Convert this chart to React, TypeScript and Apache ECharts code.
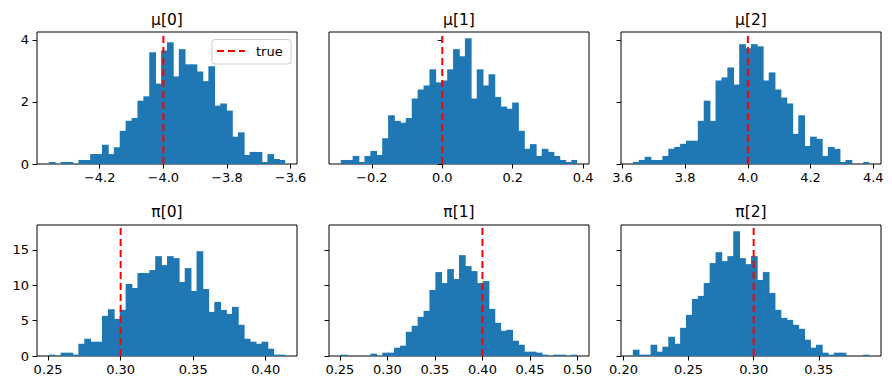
import React, { useEffect, useRef } from "react";
import * as echarts from "echarts";

// Posterior samples summarised as 40-bin density histograms.
const PANEL_TITLES = ["μ[0]", "μ[1]", "μ[2]", "π[0]", "π[1]", "π[2]"];
const TRUE_VALUES = [-4.0, 0.0, 4.0, 0.3, 0.4, 0.3];

// [first bin edge, last bin edge] of each histogram
const BIN_RANGES: [number, number][] = [
  [-4.36, -3.617],
  [-0.288, 0.383],
  [3.633, 4.387],
  [0.2505, 0.4134],
  [0.251, 0.4997],
  [0.2072, 0.3887],
];

const MU0_DENSITY = [
  0.065, 0, 0.065, 0.065, 0, 0.13, 0.13, 0.32, 0.32, 0.62,
  0.32, 0.54, 1.07, 1.39, 1.48, 2.04, 2.18, 3.6, 2.59, 3.66,
  3.92, 2.82, 3.7, 3.21, 3.21, 2.98, 2.67, 3.15, 1.88, 1.95,
  1.72, 0.88, 1.02, 0.29, 0.39, 0.39, 0.065, 0.32, 0.16, 0.13,
];
const MU1_DENSITY = [
  0.13, 0.13, 0.26, 0.065, 0.26, 0.42, 0.29, 0.83, 1.57, 1.39,
  1.33, 1.48, 2.11, 2.4, 2.53, 3.05, 2.63, 2.69, 3.05, 3.7,
  3.47, 4.05, 2.11, 3.05, 2.53, 2.89, 2.16, 1.85, 1.78, 1.98,
  1.07, 0.49, 0.64, 0.26, 0.49, 0.39, 0.26, 0.13, 0.065, 0.13,
];
const MU2_DENSITY = [
  0.065, 0.13, 0.23, 0.13, 0.13, 0.26, 0.49, 0.55, 0.65, 0.75,
  0.75, 1.39, 2.04, 1.39, 2.69, 2.79, 3.11, 2.56, 3.86, 3.73,
  3.86, 3.79, 2.69, 2.95, 2.4, 2.14, 1.95, 0.97, 1.57, 0.58,
  0.88, 0.81, 0.26, 0.55, 0.49, 0.065, 0.13, 0, 0, 0.065,
];
const PI0_DENSITY = [
  0.19, 0, 0.47, 0.47, 0.19, 1.73, 2.44, 2.02, 2.02, 5.67,
  6.61, 5.25, 6.52, 10.17, 9.61, 11.72, 11.72, 12.14, 14.11, 12.84,
  14.11, 13.83, 10.45, 12.42, 9.19, 14.81, 9.47, 6.23, 7.64, 6.52,
  5.95, 6.94, 4.41, 2.44, 2.02, 1.73, 2.02, 1.03, 0.19, 0.19,
];
const PI1_DENSITY = [
  0.19, 0, 0, 0, 0, 0.33, 0, 0.47, 0.47, 1.17,
  1.45, 3.42, 4.27, 5.53, 6.38, 9.33, 11.86, 10.31, 12.28, 10.88,
  14.25, 12.7, 12.0, 10.31, 10.59, 6.66, 4.69, 3.56, 3.7, 2.16,
  1.59, 0.61, 0.61, 0.47, 0.19, 0, 0.19, 0.19, 0, 0.19,
];
const PI2_DENSITY = [
  0.89, 0.19, 0.19, 1.59, 0.61, 1.31, 2.72, 1.73, 3.98, 5.81,
  8.06, 8.49, 10.31, 13.13, 14.67, 13.41, 14.11, 17.63, 13.83, 12.98,
  14.11, 10.74, 11.86, 8.91, 6.52, 5.39, 5.11, 4.41, 3.84, 2.3,
  1.17, 1.59, 0.47, 0.19, 0.47, 0.47, 0, 0, 0, 0.19,
];
const DENSITIES = [MU0_DENSITY, MU1_DENSITY, MU2_DENSITY, PI0_DENSITY, PI1_DENSITY, PI2_DENSITY];

const X_TICKS = [
  [-4.2, -4.0, -3.8, -3.6],
  [-0.2, 0.0, 0.2, 0.4],
  [3.6, 3.8, 4.0, 4.2, 4.4],
  [0.25, 0.3, 0.35, 0.4],
  [0.25, 0.3, 0.35, 0.4, 0.45, 0.5],
  [0.2, 0.25, 0.3, 0.35],
];
const X_DECIMALS = [1, 1, 1, 2, 2, 2];
// shared y ticks per row
const Y_TICKS = [
  [0, 2, 4],
  [0, 5, 10, 15],
];

// layout
const COL_LEFT = [37, 329, 621];
const ROW_TOP = [32, 225];
const ROW_HEIGHT = [132, 131];
const PANEL_W = 260;
const FONT = '"DejaVu Sans", sans-serif';
const BAR_COLOR = "#1f77b4";
const TRUE_COLOR = "#ff0000";

function fmt(v: number, d: number) {
  return v.toFixed(d).replace("-", "\u2212");
}

export default function App() {
  const ref = useRef<HTMLDivElement>(null);

  useEffect(() => {
    if (!ref.current) return;
    const chart = echarts.init(ref.current, undefined, { renderer: "svg" });

    const rowMax = [0, 1].map((r) =>
      1.05 * Math.max(...DENSITIES.slice(r * 3, r * 3 + 3).flat())
    );

    const grids: any[] = [];
    const xAxes: any[] = [];
    const yAxes: any[] = [];
    const series: any[] = [];
    const graphics: any[] = [];

    for (let i = 0; i < 6; i++) {
      const row = Math.floor(i / 3);
      const col = i % 3;
      const [lo, hi] = BIN_RANGES[i];
      const span = hi - lo;
      const n = DENSITIES[i].length;
      const w = span / n;
      const dec = X_DECIMALS[i];

      grids.push({
        left: COL_LEFT[col],
        top: ROW_TOP[row],
        width: PANEL_W,
        height: ROW_HEIGHT[row],
        containLabel: false,
        outerBoundsMode: "none",
        show: true,
        borderColor: "#000",
        borderWidth: 1,
        backgroundColor: "transparent",
      });

      xAxes.push({
        type: "value",
        gridIndex: i,
        min: lo - 0.05 * span,
        max: hi + 0.05 * span,
        axisLine: { show: false },
        splitLine: { show: false },
        axisTick: {
          show: true,
          inside: false,
          length: 4.5,
          lineStyle: { color: "#000", width: 1 },
          customValues: X_TICKS[i],
        },
        axisLabel: {
          customValues: X_TICKS[i],
          formatter: (v: number) => fmt(v, dec),
          fontFamily: FONT,
          fontSize: 13,
          color: "#000",
          margin: 7,
        },
      });

      yAxes.push({
        type: "value",
        gridIndex: i,
        min: 0,
        max: rowMax[row],
        axisLine: { show: false },
        splitLine: { show: false },
        axisTick: {
          show: true,
          inside: false,
          length: 4.5,
          lineStyle: { color: "#000", width: 1 },
          customValues: Y_TICKS[row],
        },
        axisLabel: {
          show: col === 0,
          customValues: Y_TICKS[row],
          formatter: (v: number) => String(v),
          fontFamily: FONT,
          fontSize: 13,
          color: "#000",
          margin: 8,
        },
      });

      const bins = DENSITIES[i].map((h, k) => [lo + k * w, lo + (k + 1) * w, h, k]);

      series.push({
        type: "custom",
        xAxisIndex: i,
        yAxisIndex: i,
        data: bins,
        encode: { x: [0, 1], y: 2 },
        renderItem: (params: any, api: any) => {
          const top = api.coord([api.value(0), api.value(2)]);
          const base = api.coord([api.value(1), 0]);
          if (base[1] - top[1] <= 0) return null;
          // overlap the neighbouring bin slightly so no seam shows between bars
          const overlap = api.value(3) < n - 1 ? 0.8 : 0;
          return {
            type: "rect",
            shape: {
              x: top[0],
              y: top[1],
              width: base[0] - top[0] + overlap,
              height: base[1] - top[1],
            },
            style: { fill: BAR_COLOR },
          };
        },
        silent: true,
      });

      series.push({
        type: "line",
        name: "true",
        xAxisIndex: i,
        yAxisIndex: i,
        data: [
          [TRUE_VALUES[i], 0],
          [TRUE_VALUES[i], rowMax[row]],
        ],
        symbol: "none",
        lineStyle: { color: TRUE_COLOR, width: 2, type: [7, 4] },
        silent: true,
        z: 5,
      });

      graphics.push({
        type: "text",
        x: COL_LEFT[col] + PANEL_W / 2,
        y: row === 0 ? 20 : 212,
        z: 10,
        style: {
          text: PANEL_TITLES[i],
          fontFamily: FONT,
          fontSize: 15.5,
          fill: "#000",
          textAlign: "center",
          textVerticalAlign: "middle",
          verticalAlign: "middle",
        },
      });
    }

    // legend inside the first panel
    graphics.push({
      type: "group",
      z: 20,
      children: [
        {
          type: "rect",
          shape: { x: 212, y: 39.5, width: 79, height: 24.5, r: 3 },
          style: { fill: "rgba(255,255,255,0.8)", stroke: "#cccccc", lineWidth: 1 },
        },
        {
          type: "line",
          shape: { x1: 217, y1: 51, x2: 245, y2: 51 },
          style: { stroke: TRUE_COLOR, lineWidth: 2, lineDash: [7, 4] },
        },
        {
          type: "text",
          x: 256,
          y: 51.5,
          style: {
            text: "true",
            fontFamily: FONT,
            fontSize: 13,
            fill: "#000",
            textVerticalAlign: "middle",
            verticalAlign: "middle",
          },
        },
      ],
    });

    chart.setOption({
      animation: false,
      backgroundColor: "#ffffff",
      grid: grids,
      xAxis: xAxes,
      yAxis: yAxes,
      series,
      graphic: graphics,
    });

    return () => chart.dispose();
  }, []);

  return (
    <div
      ref={ref}
      style={{ position: "fixed", left: 0, top: 0, width: 892, height: 390 }}
    />
  );
}
